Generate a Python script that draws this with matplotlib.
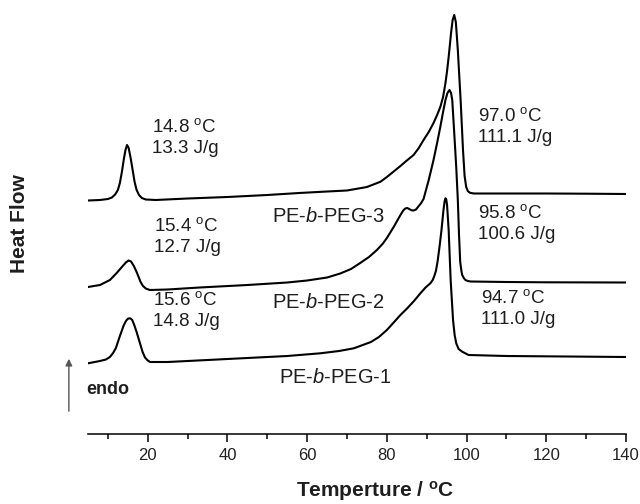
import numpy as np
import matplotlib
matplotlib.use("Agg")
import matplotlib.pyplot as plt

plt.rcParams['font.family'] = ['Liberation Sans', 'DejaVu Sans']
plt.rcParams['mathtext.fontset'] = 'custom'
plt.rcParams['mathtext.rm'] = 'Liberation Sans'
plt.rcParams['mathtext.it'] = 'Liberation Sans:italic'

# DSC heating curves, heat flow in arbitrary units (curves already offset)
t_peg3 = [5, 8, 10, 11, 11.8, 12.5, 13, 13.5, 14, 14.4, 14.8, 15.2, 15.7, 16.2, 16.7, 17.2, 17.8,
          18.5, 19.5, 22, 30, 40, 50, 58, 65, 70, 75, 78.4, 80, 81.7, 83.4, 85, 86.7, 88, 89.2,
          90.5, 91.7, 92.6, 93.4, 94.1, 94.7, 95.1, 95.5, 96.1, 96.5, 96.9, 97.3, 97.8, 98.5,
          99.1, 99.5, 99.9, 100.3, 100.8, 101.5, 102, 110, 120, 130, 140]
hf_peg3 = [233.5, 234, 235, 236.5, 239.5, 244, 251, 262, 275, 284, 289, 286, 276, 264, 252, 244,
           239, 236, 234.5, 234, 235.5, 237, 239, 241, 242.5, 243.5, 247, 252.3, 257, 262.5, 268,
           273.5, 279, 286, 294, 302, 311, 319, 327, 337, 351, 363, 377, 401, 414, 419, 412, 384,
           334, 284, 258, 247, 243, 241.3, 240.7, 240.5, 240.5, 240.5, 240.3, 240]

t_peg2 = [5, 8, 10.5, 12.2, 13.5, 14.5, 15.2, 15.8, 16.5, 17.2, 18.2, 18.8, 19.5, 20.5, 25, 33, 45,
          55, 60, 65, 68.3, 71, 73.3, 75.5, 77.5, 79, 80, 81.7, 83.4, 84.1, 84.6, 85.1, 85.6, 86.2,
          86.7, 87.3, 87.8, 88.6, 89.2, 90.5, 91.7, 92.6, 93.4, 94.1, 94.7, 95.2, 95.7, 96.1, 96.4,
          96.9, 97.4, 97.8, 98.1, 98.4, 98.7, 98.9, 99.3, 99.7, 100.3, 101, 110, 120, 140]
hf_peg2 = [147, 149, 154, 161, 167, 171.5, 173.5, 172.5, 168, 162, 152, 148, 145.5, 144, 144.5,
           146.5, 149, 151.5, 153.5, 156.5, 160.5, 165, 171, 177, 184, 190.5, 196, 207, 219, 223.5,
           225.5, 226, 225, 223.7, 223.5, 224.5, 227, 231, 235, 254, 274, 291, 307, 322, 334, 341,
           344, 341, 334, 301, 267, 234, 199, 172, 163, 159, 156, 154, 153, 152.5, 152, 151.7, 151.5]

t_peg1 = [5, 8, 9.5, 10.5, 11.3, 12, 13, 14, 14.6, 15.1, 15.6, 16.1, 16.6, 17.2, 18.1, 18.7, 19.3,
          20, 20.6, 25, 35, 45, 55, 63.3, 68, 71.7, 76, 78, 80, 81.7, 83.4, 85.1, 86.8, 88.4, 89.7,
          90.9, 91.5, 91.9, 92.3, 92.7, 93.2, 93.7, 94.2, 94.5, 94.7, 94.9, 95.1, 95.5, 96.0, 96.6,
          97.0, 97.4, 98, 98.9, 100.5, 110, 125, 140]
hf_peg1 = [70.7, 73, 74.5, 77, 81, 86, 98, 109, 113.5, 115.5, 115.7, 114, 109, 102, 90, 82, 76.5,
           73.5, 72, 72, 74, 76, 78, 80.7, 83, 85.7, 92, 97, 104, 111.5, 119, 125.7, 133, 140.7,
           146.5, 150.7, 154, 158, 163, 172, 187, 204, 224, 233, 235.7, 234.5, 229, 204, 154, 114,
           99, 90.7, 85, 82.3, 79, 78, 77.5, 77]

names = ['PE-$\\mathit{b}$-PEG-3', 'PE-$\\mathit{b}$-PEG-2', 'PE-$\\mathit{b}$-PEG-1']
low_labels = ['14.8 $^\\mathregular{o}$C\n13.3 J/g', '15.4 $^\\mathregular{o}$C\n12.7 J/g',
              '15.6 $^\\mathregular{o}$C\n14.8 J/g']
high_labels = ['97.0 $^\\mathregular{o}$C\n111.1 J/g', '95.8 $^\\mathregular{o}$C\n100.6 J/g',
               '94.7 $^\\mathregular{o}$C\n111.0 J/g']

fig = plt.figure(figsize=(6.4, 5.04), dpi=100)
ax = fig.add_axes([88 / 640, 70 / 504, 538 / 640, 434 / 504])

for t, hf in [(t_peg3, hf_peg3), (t_peg2, hf_peg2), (t_peg1, hf_peg1)]:
    ax.plot(t, hf, color='black', lw=1.5, solid_joinstyle='round')

ax.set_xlim(5, 140)
ax.set_ylim(0, 434)

for s in ['top', 'right', 'left']:
    ax.spines[s].set_visible(False)
ax.spines['bottom'].set_linewidth(1.1)
ax.set_yticks([])
ax.set_xticks(np.arange(20, 141, 20))
ax.set_xticks(np.arange(10, 141, 10), minor=True)
ax.tick_params(axis='x', which='major', direction='out', length=6, width=1.1, pad=4, labelsize=12,
               labelcolor='#222222')
ax.tick_params(axis='x', which='minor', direction='out', length=3.5, width=1.1)

# peak annotations
fs = 13.5
lo_pos = [(21.1, 281), (21.6, 182), (21.4, 108)]
hi_pos = [(102.8, 292), (102.8, 195), (103.5, 110)]
name_pos = [(51.2, 212), (51.2, 126), (53.0, 51)]
for i in range(3):
    ax.text(*lo_pos[i], low_labels[i], fontsize=fs, va='baseline', linespacing=1.3, color='#1e1e1e')
    ax.text(*hi_pos[i], high_labels[i], fontsize=fs, va='baseline', linespacing=1.3, color='#1e1e1e')
    ax.text(*name_pos[i], names[i], fontsize=14.5, va='baseline', color='#1e1e1e')

ax.text(4.5, 40, 'endo', fontsize=13, fontweight='bold', va='baseline', color='#1e1e1e')
ax.annotate('', xy=(0.2, 78), xytext=(0.2, 20), annotation_clip=False,
            arrowprops=dict(arrowstyle='-|>', color='#555555', lw=1, mutation_scale=10))

fig.text(20 / 640, 1 - 224 / 504, 'Heat Flow', rotation=90, fontsize=15, fontweight='bold',
         ha='center', va='center', color='#1e1e1e')
fig.text(375 / 640, 1 - 491 / 504, 'Temperture / $^\\mathregular{o}$C', fontsize=15,
         fontweight='bold', ha='center', va='center', color='#1e1e1e')

fig.savefig('out.png', dpi=100)
